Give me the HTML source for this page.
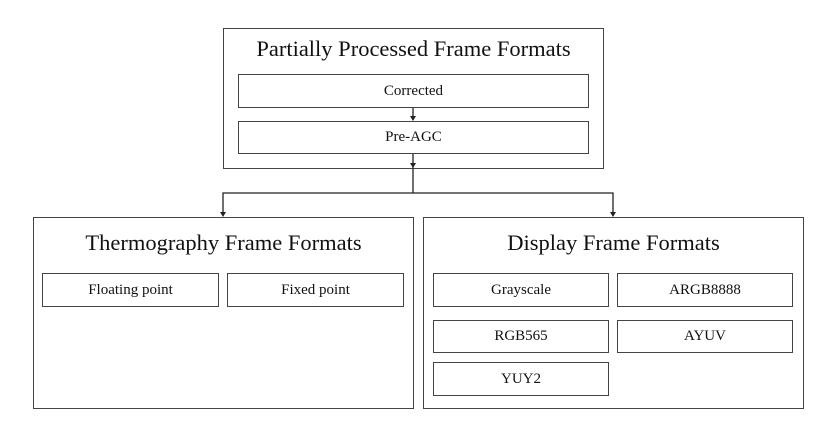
<!DOCTYPE html>
<html><head><meta charset="utf-8"><style>
body{margin:0;width:829px;height:426px;background:#fff;position:relative;overflow:hidden;font-family:"Liberation Serif",serif;color:#111}
.b{position:absolute;border:1.5px solid #444;box-sizing:border-box}
.t{position:absolute;font-size:22.5px;text-align:center;white-space:nowrap}
.n{position:absolute;border:1.5px solid #444;box-sizing:border-box;font-size:15px;display:flex;align-items:center;justify-content:center}
</style></head><body>
<div class="b" style="left:223px;top:28px;width:381px;height:141px"></div>
<div class="t" style="left:223px;width:381px;top:36px">Partially Processed Frame Formats</div>
<div class="n" style="left:238px;top:74px;width:351px;height:34px">Corrected</div>
<div class="n" style="left:238px;top:121px;width:351px;height:33px">Pre-AGC</div>

<div class="b" style="left:33px;top:217px;width:381px;height:192px"></div>
<div class="t" style="left:33px;width:381px;top:230px">Thermography Frame Formats</div>
<div class="n" style="left:42px;top:273px;width:177px;height:34px">Floating point</div>
<div class="n" style="left:227px;top:273px;width:177px;height:34px">Fixed point</div>

<div class="b" style="left:423px;top:217px;width:381px;height:192px"></div>
<div class="t" style="left:423px;width:381px;top:230px">Display Frame Formats</div>
<div class="n" style="left:433px;top:273px;width:176px;height:34px">Grayscale</div>
<div class="n" style="left:617px;top:273px;width:176px;height:34px">ARGB8888</div>
<div class="n" style="left:433px;top:320px;width:176px;height:33px">RGB565</div>
<div class="n" style="left:617px;top:320px;width:176px;height:33px">AYUV</div>
<div class="n" style="left:433px;top:362px;width:176px;height:34px">YUY2</div>

<svg width="829" height="426" style="position:absolute;left:0;top:0">
<g stroke="#222" stroke-width="1.3" fill="none">
<line x1="413" y1="108" x2="413" y2="117"/>
<line x1="413" y1="154" x2="413" y2="193"/>
<polyline points="223,213 223,193 613,193 613,213"/>
</g>
<g fill="#222">
<polygon points="410,116 416,116 413,121"/>
<polygon points="410,163 416,163 413,168"/>
<polygon points="220,212 226,212 223,217"/>
<polygon points="610,212 616,212 613,217"/>
</g>
</svg>
</body></html>
